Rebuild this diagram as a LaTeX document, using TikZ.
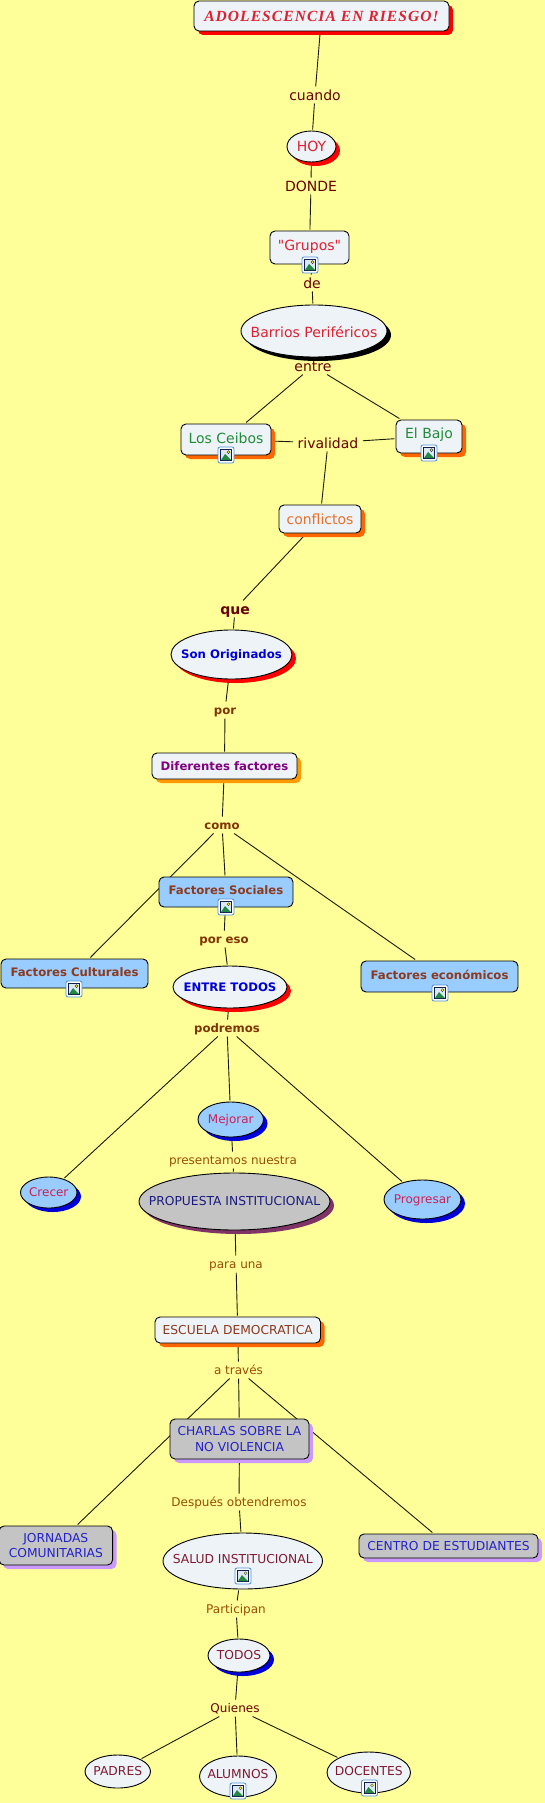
\documentclass[tikz,border=0pt]{standalone}
\usepackage{fontspec}
\setmainfont[Ligatures=TeXOff]{DejaVu Sans}
\newfontfamily\titlefont[LetterSpace=7]{Liberation Serif}
\usetikzlibrary{shapes.geometric,shadows}
\pgfdeclarelayer{back}\pgfdeclarelayer{lines}
\pgfsetlayers{back,lines,main}
\definecolor{bgy}{HTML}{FFFF99}
\definecolor{nw}{HTML}{EDF3F7}
\definecolor{nb}{HTML}{99CCFF}
\definecolor{ng}{HTML}{C4C4C4}
\definecolor{lnk}{HTML}{1A1A08}
\definecolor{ored}{HTML}{FF6600}
\definecolor{oamb}{HTML}{FF9900}
\definecolor{plum}{HTML}{7F3366}
\definecolor{lilac}{HTML}{CC99FF}
\definecolor{tred}{HTML}{E02030}
\definecolor{tgreen}{HTML}{228B3A}
\definecolor{torange}{HTML}{E8702A}
\definecolor{tbrown}{HTML}{8B3A1E}
\definecolor{tpurple}{HTML}{800080}
\definecolor{tcrim}{HTML}{D02050}
\definecolor{tnavy}{HTML}{1A1A80}
\definecolor{tblue}{HTML}{2222CC}
\definecolor{tmar}{HTML}{801A33}
\definecolor{ldark}{HTML}{660000}
\definecolor{lbold}{HTML}{803300}
\definecolor{lreg}{HTML}{994D00}
\definecolor{iconb}{HTML}{4A90D9}
\definecolor{iconn}{HTML}{10204A}
\definecolor{icons}{HTML}{DCE8F5}
\definecolor{iconh}{HTML}{228844}
\newcommand{\T}[2]{\raisebox{\dimexpr #1pt-0.36em\relax}[0pt][0pt]{#2}}
\newcommand{\E}[2]{\T{#1}{\makebox[0pt]{#2}}}
\tikzset{
 x=1pt,y=-1pt,
 base/.style={draw=black,line width=.9pt,inner sep=0pt,outer sep=1.5pt,align=center},
 rbox/.style={base,rectangle,rounded corners=5pt},
 oval/.style={base,ellipse},
 wf/.style={fill=nw},bf/.style={fill=nb},gf/.style={fill=ng},
 sh/.style={general shadow={fill=#1,shadow xshift=4pt,shadow yshift=-4pt}},
 big/.style={font=\fontsize{14}{16}\selectfont},
 bld/.style={font=\fontsize{11.7}{14}\selectfont\bfseries},
 reg/.style={font=\fontsize{12}{15.5}\selectfont},
 regc/.style={font=\fontsize{12.3}{15.5}\selectfont},
 lab/.style={inner sep=0pt,outer xsep=4.5pt,outer ysep=1pt,minimum height=15pt},
 conn/.style={draw=lnk,line width=.9pt},
 icon/.pic={
  \fill[white,draw=iconb,line width=.8pt,rounded corners=2pt] (-8,-8) rectangle (8,8);
  \fill[iconn] (-6,-6) rectangle (6,6);
  \fill[icons] (-5,-5) rectangle (5,5);
  \fill[iconh] (-5,5) -- (-1,-1) -- (5,5) -- cycle;
  \fill[yellow,draw=iconn,line width=.3pt] (2.5,-2.8) circle (1.5);
 }
}
\begin{document}
\begin{tikzpicture}
\path[use as bounding box] (0,0) rectangle (545,1803);
\begin{pgfonlayer}{back}\fill[bgy] (0,0) rectangle (545,1803);\end{pgfonlayer}
% concepts
\node[rbox,wf,sh=red,minimum width=255pt,minimum height=30pt,text=tred,font=\titlefont\fontsize{15.5}{18}\selectfont\bfseries\itshape] (title) at (321.5,16) {ADOLESCENCIA EN RIESGO!};
\node[oval,wf,sh=red,big,text=tred,minimum width=49pt,minimum height=31pt] (hoy) at (311.5,146.5) {\E{0}{HOY}};
\node[rbox,wf,big,text=tred,minimum width=79pt,minimum height=33pt] (grupos) at (309.5,247.5) {\T{2.5}{"Grupos"}};
\node[oval,wf,sh=black,big,text=tred,minimum width=146pt,minimum height=52pt] (barrios) at (314,331) {\E{-1}{Barrios Periféricos}};
\node[rbox,wf,sh=ored,big,text=tgreen,minimum width=90pt,minimum height=31pt] (ceibos) at (226,439.5) {\T{1.5}{Los Ceibos}};
\node[rbox,wf,sh=ored,big,text=tgreen,minimum width=66pt,minimum height=33pt] (bajo) at (429,436.5) {\T{3.5}{El Bajo}};
\node[rbox,wf,sh=ored,big,text=torange,minimum width=82pt,minimum height=28pt] (confl) at (320,519) {\T{0}{conflictos}};
\node[oval,wf,sh=red,bld,text=blue!85!black,minimum width=121pt,minimum height=49pt] (son) at (231.5,654.5) {\E{0.5}{Son Originados}};
\node[rbox,wf,sh=oamb,bld,text=tpurple,minimum width=145pt,minimum height=26pt] (dif) at (224.5,766) {\T{0}{Diferentes factores}};
\node[rbox,bf,bld,text=tbrown,minimum width=134pt,minimum height=30pt] (fsoc) at (226,892) {\T{2}{Factores Sociales}};
\node[rbox,bf,bld,text=tbrown,minimum width=147pt,minimum height=29pt] (fcul) at (74.5,973.5) {\T{1.5}{Factores Culturales}};
\node[rbox,bf,bld,text=tbrown,minimum width=157pt,minimum height=31pt] (feco) at (439.5,976.5) {\T{1.5}{Factores económicos}};
\node[oval,wf,sh=red,bld,text=blue!85!black,minimum width=114pt,minimum height=42pt] (entre) at (230,987) {\E{0}{ENTRE TODOS}};
\node[oval,bf,sh=blue!85!black,reg,text=tcrim,minimum width=65.5pt,minimum height=35pt] (mej) at (230.75,1119.5) {\E{0.5}{Mejorar}};
\node[oval,bf,sh=blue!85!black,reg,text=tcrim,minimum width=56.5pt,minimum height=31pt] (cre) at (48.75,1192.5) {\E{0}{Crecer}};
\node[oval,bf,sh=blue!85!black,reg,text=tcrim,minimum width=77pt,minimum height=39pt] (pro) at (422.5,1199.5) {\E{0.5}{Progresar}};
\node[oval,gf,sh=plum,regc,text=tnavy,minimum width=191pt,minimum height=57pt] (prop) at (234.5,1201.5) {\E{0}{PROPUESTA INSTITUCIONAL}};
\node[rbox,wf,sh=ored,regc,text=tbrown,minimum width=165.5pt,minimum height=26pt] (esc) at (237.75,1330) {\T{0}{ESCUELA DEMOCRATICA}};
\node[rbox,gf,sh=lilac,regc,text=tblue,minimum width=139pt,minimum height=40pt] (charlas) at (239.5,1439) {CHARLAS SOBRE LA\\NO VIOLENCIA};
\node[rbox,gf,sh=lilac,regc,text=tblue,minimum width=113.5pt,minimum height=39pt] (jorn) at (55.8,1545.5) {JORNADAS\\COMUNITARIAS};
\node[rbox,gf,sh=lilac,regc,text=tblue,minimum width=179pt,minimum height=24pt] (centro) at (448.5,1546) {\T{0}{CENTRO DE ESTUDIANTES}};
\node[oval,wf,regc,text=tmar,minimum width=159.5pt,minimum height=56pt] (salud) at (242.75,1561) {\E{2}{SALUD INSTITUCIONAL}};
\node[oval,wf,sh=blue!85!black,regc,text=tmar,minimum width=62pt,minimum height=33pt] (todos) at (239,1655.5) {\E{0}{TODOS}};
\node[oval,wf,regc,text=tmar,minimum width=65.5pt,minimum height=33pt] (padres) at (117.75,1771.5) {\E{0}{PADRES}};
\node[oval,wf,regc,text=tmar,minimum width=77pt,minimum height=41pt] (alumnos) at (238,1776.5) {\E{2.5}{ALUMNOS}};
\node[oval,wf,regc,text=tmar,minimum width=83.5pt,minimum height=41pt] (docentes) at (368.75,1772.5) {\E{1.5}{DOCENTES}};
% link labels
\node[lab,big,text=ldark] (l1) at (315,95) {\T{0}{cuando}};
\node[lab,big,text=ldark] (l2) at (311,186) {\T{0}{DONDE}};
\node[lab,big,text=ldark] (l3) at (312,283) {\T{0}{de}};
\node[lab,big,text=ldark] (l4) at (313,366) {\T{0}{entre}};
\node[lab,big,text=ldark] (l5) at (328,443) {\T{0}{rivalidad}};
\node[lab,big,font=\fontsize{14}{16}\selectfont\bfseries,text=ldark] (l6) at (235,609) {\T{0}{que}};
\node[lab,bld,text=lbold] (l7) at (225,710) {\T{0}{por}};
\node[lab,bld,text=lbold] (l8) at (222,825) {\T{0}{como}};
\node[lab,bld,text=lbold] (l9) at (224,939) {\T{0}{por eso}};
\node[lab,bld,text=lbold] (l10) at (227,1028) {\T{0}{podremos}};
\node[lab,reg,text=lreg] (l11) at (233,1160) {\T{0}{presentamos nuestra}};
\node[lab,reg,text=lreg] (l12) at (236,1264) {\T{0}{para una}};
\node[lab,reg,text=lreg] (l13) at (238.5,1370) {\T{0}{a través}};
\node[lab,reg,text=lreg] (l14) at (239,1502) {\T{0}{Después obtendremos}};
\node[lab,reg,text=lreg] (l15) at (236,1609) {\T{0}{Participan}};
\node[lab,reg,text=ldark] (l16) at (235,1708) {\T{0}{Quienes}};
% connectors
\begin{pgfonlayer}{lines}
\draw[conn] (title)--(l1) (l1)--(hoy) (hoy)--(l2) (l2)--(grupos) (grupos)--(l3) (l3)--(barrios) (barrios)--(l4);
\draw[conn] (l4)--(ceibos) (l4)--(bajo) (ceibos)--(l5) (bajo)--(l5) (l5)--(confl) (confl)--(l6) (l6)--(son);
\draw[conn] (son)--(l7) (l7)--(dif) (dif)--(l8) (l8)--(fsoc) (l8)--(fcul) (l8)--(feco);
\draw[conn] (fsoc)--(l9) (l9)--(entre) (entre)--(l10) (l10)--(mej) (l10)--(cre) (l10)--(pro);
\draw[conn] (mej)--(l11) (l11)--(prop) (prop)--(l12) (l12)--(esc) (esc)--(l13);
\draw[conn] (l13)--(charlas) (l13)--(jorn) (l13)--(centro);
\draw[conn] (charlas)--(l14) (l14)--(salud) (salud)--(l15) (l15)--(todos) (todos)--(l16);
\draw[conn] (l16)--(padres) (l16)--(alumnos) (l16)--(docentes);
\end{pgfonlayer}
% picture icons
\pic at (310,265) {icon};
\pic at (226,455) {icon};
\pic at (429,453) {icon};
\pic at (226,907) {icon};
\pic at (74,989) {icon};
\pic at (440,993) {icon};
\pic at (243,1576) {icon};
\pic at (238,1791) {icon};
\pic at (369.5,1788) {icon};
\end{tikzpicture}
\end{document}
